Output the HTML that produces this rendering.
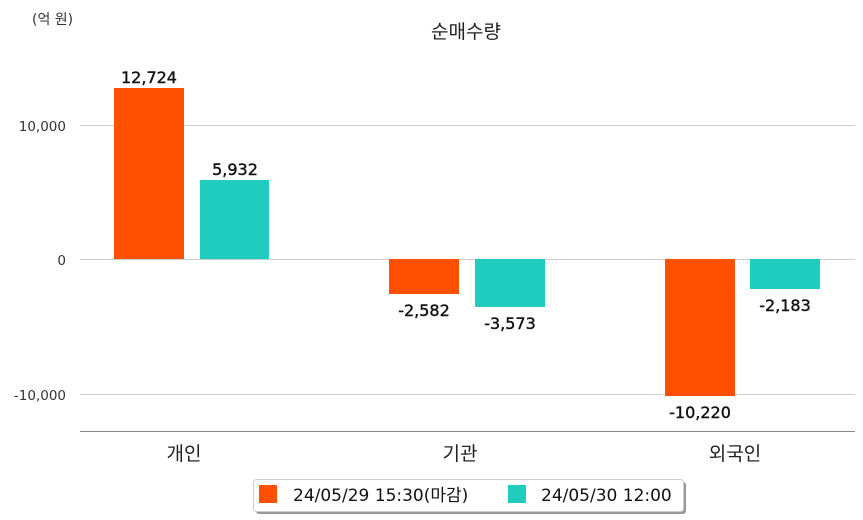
<!DOCTYPE html>
<html><head><meta charset="utf-8"><style>
html,body{margin:0;padding:0;background:#fff;}
svg{display:block;font-family:"DejaVu Sans","Noto Sans CJK KR",sans-serif;}
</style></head><body>
<svg width="863" height="520" viewBox="0 0 863 520">
<text x="32" y="24" font-size="14" fill="#333">(억 원)</text>
<text x="466" y="38" font-size="19" fill="#222" text-anchor="middle">순매수량</text>
<g stroke="#cfcfcf" stroke-width="1">
<line x1="80" y1="125.5" x2="855" y2="125.5"/>
<line x1="80" y1="259.5" x2="855" y2="259.5"/>
<line x1="80" y1="394.5" x2="855" y2="394.5"/>
</g>
<line x1="80" y1="431.5" x2="855" y2="431.5" stroke="#888" stroke-width="1"/>
<g font-size="13.5" fill="#333" text-anchor="end">
<text x="66" y="131">10,000</text>
<text x="66" y="265">0</text>
<text x="66" y="400">-10,000</text>
</g>
<g fill="#ff5000">
<rect x="114" y="88" width="70" height="171"/>
<rect x="389" y="259" width="70" height="35"/>
<rect x="665" y="259" width="70" height="137"/>
</g>
<g fill="#1ecdbd">
<rect x="200" y="180" width="69" height="79"/>
<rect x="475" y="259" width="70" height="48"/>
<rect x="750" y="259" width="70" height="30"/>
</g>
<g font-size="16" fill="#111" stroke="#111" stroke-width="0.4" text-anchor="middle">
<text x="149" y="83">12,724</text>
<text x="235" y="175">5,932</text>
<text x="424" y="316">-2,582</text>
<text x="510" y="329">-3,573</text>
<text x="700" y="418">-10,220</text>
<text x="785" y="311">-2,183</text>
</g>
<g font-size="19" fill="#222" text-anchor="middle" font-family="Noto Sans CJK KR, sans-serif">
<text x="184" y="460">개인</text>
<text x="460" y="460">기관</text>
<text x="735" y="460">외국인</text>
</g>
<rect x="256" y="482" width="430" height="32" rx="3" fill="#999"/>
<rect x="253.5" y="479.5" width="430" height="32" rx="3" fill="#fff" stroke="#ccc"/>
<rect x="259" y="485" width="18" height="18" fill="#ff5000"/>
<rect x="508" y="485" width="18" height="18" fill="#1ecdbd"/>
<g font-size="17" fill="#111">
<text x="293" y="501">24/05/29 15:30(마감)</text>
<text x="541" y="501">24/05/30 12:00</text>
</g>
</svg>
</body></html>
